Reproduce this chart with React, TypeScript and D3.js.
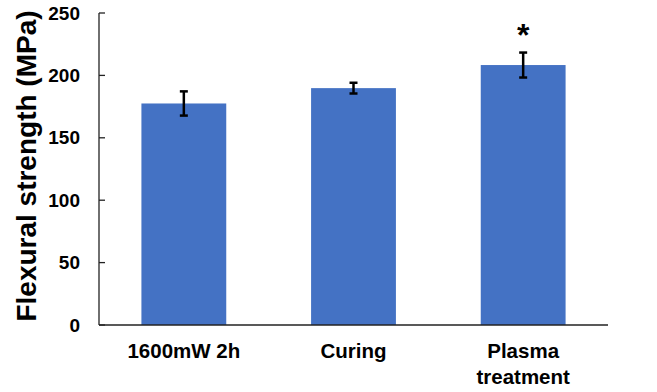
import React from "react";
import * as d3 from "d3";

const categories: string[][] = [["1600mW 2h"], ["Curing"], ["Plasma", "treatment"]];
const values: number[] = [177.5, 189.8, 208.3];
const errors: number[] = [9.7, 4.3, 10.0];
const significance: string[] = ["", "", "*"];
const yTicks: number[] = [0, 50, 100, 150, 200, 250];
const yTitle = "Flexural strength (MPa)";

const W = 657;
const H = 392;
const margin = { left: 99, right: 49, top: 13, bottom: 67 };
const FONT = "'Liberation Sans', Arial, sans-serif";

export default function App() {
  const x = d3
    .scaleBand<number>()
    .domain(values.map((_, i) => i))
    .range([margin.left, W - margin.right])
    .paddingInner(0.5)
    .paddingOuter(0.25);
  const y = d3.scaleLinear().domain([0, 250]).range([H - margin.bottom, margin.top]);
  const y0 = y(0);

  return (
    <svg
      width={W}
      height={H}
      style={{ position: "absolute", left: 0, top: 0, background: "#fff" }}
      fontFamily={FONT}
    >
      {values.map((v, i) => (
        <rect
          key={"b" + i}
          x={x(i)}
          y={y(v)}
          width={x.bandwidth()}
          height={y0 - y(v)}
          fill="#4472C4"
        />
      ))}
      {values.map((v, i) => {
        const cx = (x(i) as number) + x.bandwidth() / 2;
        const hi = y(v + errors[i]);
        const lo = y(v - errors[i]);
        return (
          <g key={"e" + i} stroke="#000" strokeWidth={2.5}>
            <line x1={cx} x2={cx} y1={hi} y2={lo} />
            <line x1={cx - 4} x2={cx + 4} y1={hi} y2={hi} />
            <line x1={cx - 4} x2={cx + 4} y1={lo} y2={lo} />
          </g>
        );
      })}
      {values.map((v, i) =>
        significance[i] ? (
          <text
            key={"s" + i}
            x={(x(i) as number) + x.bandwidth() / 2}
            y={y(v + errors[i]) - 7}
            textAnchor="middle"
            fontSize={32}
            fontWeight="bold"
          >
            {significance[i]}
          </text>
        ) : null
      )}
      {/* axes */}
      <line x1={margin.left} x2={margin.left} y1={y(250)} y2={y0} stroke="#222" strokeWidth={1.3} />
      <line x1={margin.left} x2={W - margin.right} y1={y0} y2={y0} stroke="#222" strokeWidth={1.3} />
      {yTicks.map((t) => (
        <g key={"t" + t}>
          <line x1={margin.left} x2={margin.left + 6} y1={y(t)} y2={y(t)} stroke="#222" strokeWidth={1.3} />
          <text
            x={margin.left - 19}
            y={y(t)}
            dy="0.35em"
            textAnchor="end"
            fontSize={19}
            fontWeight="bold"
          >
            {t}
          </text>
        </g>
      ))}
      {categories.map((lines, i) => (
        <text
          key={"c" + i}
          x={(x(i) as number) + x.bandwidth() / 2}
          y={358}
          textAnchor="middle"
          fontSize={20.5}
          fontWeight="bold"
        >
          {lines.map((l, j) => (
            <tspan key={j} x={(x(i) as number) + x.bandwidth() / 2} dy={j === 0 ? 0 : 26}>
              {l}
            </tspan>
          ))}
        </text>
      ))}
      <text
        transform={`translate(36, ${(y(250) + y0) / 2 - 3}) rotate(-90)`}
        textAnchor="middle"
        fontSize={28}
        fontWeight="bold"
      >
        {yTitle}
      </text>
    </svg>
  );
}
